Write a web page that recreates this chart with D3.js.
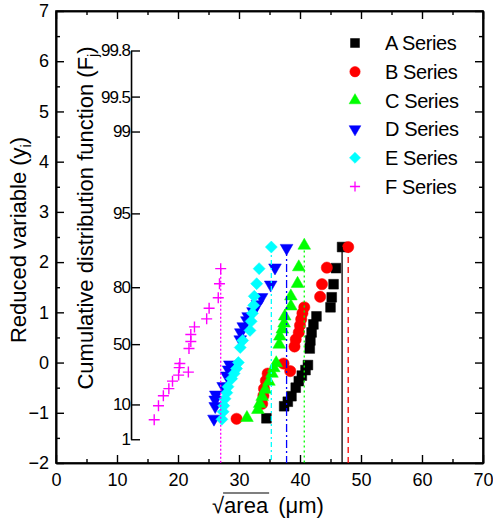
<!DOCTYPE html>
<html>
<head>
<meta charset="utf-8">
<script src="https://cdn.jsdelivr.net/npm/d3@7"></script>
<style>
  body { margin: 0; background: #fff; }
  text { font-family: "Liberation Sans", Arial, sans-serif; fill: #000; }
</style>
</head>
<body>
<div class="chart"></div>
<script>
/* Global Constants
============================================= */
const SVG_WIDTH = 493;
const SVG_HEIGHT = 521;

const X_TICKS = [0, 10, 20, 30, 40, 50, 60, 70];
const Y_TICKS = [-2, -1, 0, 1, 2, 3, 4, 5, 6, 7];
const PROB_TICKS = [1, 10, 50, 80, 95, 99, 99.5, 99.8];
const PROB_AXIS_AT = 12.3;

const SERIES_NAMES = ["A Series", "B Series", "C Series", "D Series", "E Series", "F Series"];

// sqrt(area) values and reduced variable values
const A_X = [46.9, 45.9, 45.5, 45.2, 45.0, 42.7, 42.2, 41.9, 41.7, 41.6, 41.3, 40.9, 40.3, 39.8, 39.3, 38.6, 38.0, 37.4, 34.5];
const A_Y = [2.30, 1.88, 1.56, 1.30, 1.10, 0.92, 0.76, 0.60, 0.44, 0.28, -0.05, -0.15, -0.26, -0.37, -0.50, -0.67, -0.78, -0.87, -1.11];

const B_X = [47.9, 44.4, 43.6, 43.3, 40.7, 40.4, 40.2, 40.0, 39.8, 39.3, 39.1, 37.3, 38.4, 34.7, 34.4, 34.1, 34.0, 33.8, 29.6];
const B_Y = [2.30, 1.89, 1.56, 1.31, 1.10, 0.98, 0.86, 0.74, 0.60, 0.46, 0.32, -0.02, -0.17, -0.22, -0.36, -0.52, -0.66, -0.82, -1.12];

const C_X = [40.7, 39.8, 39.6, 38.5, 38.5, 37.5, 37.4, 37.1, 36.7, 36.6, 36.1, 35.7, 35.4, 34.9, 34.3, 33.8, 33.4, 33.1, 31.3];
const C_Y = [2.33, 1.90, 1.57, 1.32, 1.12, 0.92, 0.78, 0.66, 0.52, 0.36, -0.01, -0.11, -0.22, -0.38, -0.54, -0.68, -0.82, -0.94, -1.10];

const D_X = [37.8, 35.9, 35.2, 33.7, 33.0, 32.3, 31.5, 31.3, 30.7, 30.3, 30.2, 28.5, 28.3, 28.0, 27.4, 26.2, 26.1, 26.1, 25.9];
const D_Y = [2.28, 1.89, 1.55, 1.30, 1.16, 1.02, 0.92, 0.84, 0.72, 0.60, 0.46, -0.04, -0.14, -0.26, -0.47, -0.64, -0.74, -0.87, -1.12];

const E_X = [35.3, 33.3, 32.9, 32.5, 32.4, 32.2, 32.0, 31.8, 30.6, 30.2, 29.9, 29.6, 29.2, 28.8, 28.2, 28.0, 27.7, 27.5, 27.4, 27.2];
const E_Y = [2.30, 1.87, 1.57, 1.32, 1.14, 0.98, 0.82, 0.64, 0.44, 0.30, 0.00, -0.12, -0.22, -0.32, -0.48, -0.60, -0.72, -0.86, -0.98, -1.13];

const F_X = [27.0, 26.8, 26.6, 25.1, 24.7, 22.7, 22.1, 22.1, 21.8, 20.3, 20.2, 21.7, 20.1, 19.1, 18.5, 17.6, 16.8, 16.1];
const F_Y = [1.87, 1.57, 1.29, 1.08, 0.87, 0.71, 0.56, 0.42, 0.28, -0.02, -0.10, -0.19, -0.25, -0.37, -0.52, -0.66, -0.86, -1.14];

const FONT_TICK = "18px";
const FONT_TITLE = "22px";

/* Marker shapes
============================================= */
var symbolPlusThin = {
    draw: function(context, size) {
        var r = Math.sqrt(size) / 2;
        context.moveTo(-r, 0);
        context.lineTo(r, 0);
        context.moveTo(0, -r);
        context.lineTo(0, r);
    }
};

var STYLES = [
    { color: "#000000", type: d3.symbolSquare,   size: 95,  rotate: 0,   dash: null,          fill: true },
    { color: "#ff0000", type: d3.symbolCircle,   size: 100, rotate: 0,   dash: "6,4",         fill: true },
    { color: "#00ff00", type: d3.symbolTriangle, size: 70,  rotate: 0,   dash: "2,3",         fill: true },
    { color: "#0000ff", type: d3.symbolTriangle, size: 70,  rotate: 180, dash: "8,3,2,3",     fill: true },
    { color: "#00ffff", type: d3.symbolSquare,   size: 72,  rotate: 45,  dash: "5,3,2,3",     fill: true },
    { color: "#ff00ff", type: symbolPlusThin,    size: 121, rotate: 0,   dash: "2,2",         fill: false }
];

var SERIES = [
    { xs: A_X, ys: A_Y },
    { xs: B_X, ys: B_Y },
    { xs: C_X, ys: C_Y },
    { xs: D_X, ys: D_Y },
    { xs: E_X, ys: E_Y },
    { xs: F_X, ys: F_Y }
];

//****************** init *****************************//
var margin = { top: 11, bottom: 58, left: 56, right: 10 };
var width = SVG_WIDTH - margin.left - margin.right;
var height = SVG_HEIGHT - margin.top - margin.bottom;

var svg = d3.select(".chart")
    .append("svg")
    .attr("width", SVG_WIDTH)
    .attr("height", SVG_HEIGHT);

var chart = svg.append("g")
    .attr("transform", `translate(${margin.left}, ${margin.top})`);

var xLinearScale = d3.scaleLinear().domain([0, 70]).range([0, width]);
var yLinearScale = d3.scaleLinear().domain([-2, 7]).range([height, 0]);

// minor ticks
var xMinor = d3.range(5, 70, 10);
var yMinor = d3.range(-1.5, 7, 1);

drawAxis(d3.axisBottom(xLinearScale).tickValues(X_TICKS).tickSize(-8).tickSizeOuter(0).tickPadding(10), `translate(0, ${height})`, true);
drawAxis(d3.axisBottom(xLinearScale).tickValues(xMinor).tickSize(-4).tickSizeOuter(0).tickFormat(""), `translate(0, ${height})`, false);
drawAxis(d3.axisTop(xLinearScale).tickValues(X_TICKS).tickSize(-8).tickSizeOuter(0).tickFormat(""), "translate(0, 0)", false);
drawAxis(d3.axisTop(xLinearScale).tickValues(xMinor).tickSize(-4).tickSizeOuter(0).tickFormat(""), "translate(0, 0)", false);
drawAxis(d3.axisLeft(yLinearScale).tickValues(Y_TICKS).tickSize(-8).tickSizeOuter(0).tickPadding(7), "translate(0, 0)", true);
drawAxis(d3.axisLeft(yLinearScale).tickValues(yMinor).tickSize(-4).tickSizeOuter(0).tickFormat(""), "translate(0, 0)", false);
drawAxis(d3.axisRight(yLinearScale).tickValues(Y_TICKS).tickSize(-8).tickSizeOuter(0).tickFormat(""), `translate(${width}, 0)`, false);
drawAxis(d3.axisRight(yLinearScale).tickValues(yMinor).tickSize(-4).tickSizeOuter(0).tickFormat(""), `translate(${width}, 0)`, false);

// frame
chart.append("rect")
    .attr("width", width)
    .attr("height", height)
    .attr("fill", "none")
    .attr("stroke", "#000")
    .attr("stroke-width", 1.6);

// probability axis (Gumbel)
var gLo = gumbel(PROB_TICKS[0]);
var gHi = gumbel(PROB_TICKS[PROB_TICKS.length - 1]);
var probScale = d3.scaleLinear()
    .domain([gLo, gHi])
    .range([yLinearScale(gLo), yLinearScale(gHi)]);

var probAxis = chart.append("g")
    .attr("transform", `translate(${xLinearScale(PROB_AXIS_AT)}, 0)`)
    .call(d3.axisLeft(probScale)
        .tickValues(PROB_TICKS.map(gumbel))
        .tickSize(-9)
        .tickSizeOuter(0)
        .tickPadding(1)
        .tickFormat(function(d, i) { return PROB_TICKS[i]; }));
styleAxis(probAxis, true);
probAxis.selectAll("text").attr("font-size", "17px").attr("letter-spacing", "-1px");

// plot: data points
var plotGroup = chart.append("g");
SERIES.forEach(function(s, k) {
    var st = STYLES[k];
    var sym = d3.symbol().type(st.type).size(st.size);
    plotGroup.append("g")
        .selectAll("path")
        .data(s.xs.map(function(v, i) { return [v, s.ys[i]]; }))
        .enter()
        .append("path")
        .attr("d", sym)
        .attr("transform", function(d) {
            return `translate(${xLinearScale(d[0])}, ${yLinearScale(d[1])}) rotate(${st.rotate})`;
        })
        .attr("fill", st.fill ? st.color : "none")
        .attr("stroke", st.color)
        .attr("stroke-width", st.fill ? 0.5 : 1.4);
});

// vertical lines through the top point of every series
SERIES.forEach(function(s, k) {
    var st = STYLES[k];
    chart.append("line")
        .attr("x1", xLinearScale(s.xs[0]))
        .attr("x2", xLinearScale(s.xs[0]))
        .attr("y1", yLinearScale(s.ys[0]))
        .attr("y2", yLinearScale(-2))
        .attr("stroke", st.color)
        .attr("stroke-width", 1.3)
        .attr("stroke-dasharray", st.dash);
});

// legend
var legend = chart.append("g")
    .attr("transform", `translate(${355 - margin.left}, ${43 - margin.top})`);
SERIES_NAMES.forEach(function(name, k) {
    var st = STYLES[k];
    var row = legend.append("g").attr("transform", `translate(0, ${k * 28.7})`);
    row.append("path")
        .attr("d", d3.symbol().type(st.type).size(st.size * 0.85))
        .attr("transform", `rotate(${st.rotate})`)
        .attr("fill", st.fill ? st.color : "none")
        .attr("stroke", st.color)
        .attr("stroke-width", st.fill ? 0.5 : 1.3);
    row.append("text")
        .attr("x", 30)
        .attr("dy", "0.36em")
        .attr("font-size", "20px")
        .attr("letter-spacing", "-0.4px")
        .text(name);
});

// axis titles
svg.append("text")
    .attr("transform", "translate(26, 240) rotate(-90)")
    .attr("text-anchor", "middle")
    .attr("font-size", FONT_TITLE)
    .html('Reduced variable (y<tspan font-size="14px" dy="5">i</tspan><tspan dy="-5">)</tspan>');

svg.append("text")
    .attr("transform", "translate(93, 218) rotate(-90)")
    .attr("text-anchor", "middle")
    .attr("font-size", FONT_TITLE)
    .html('Cumulative distribution function (F<tspan font-size="14px" dy="5">j</tspan><tspan dy="-5">)</tspan>');

// x title: radical with overline
var xt = svg.append("g").attr("transform", "translate(212, 513)");
var rad = xt.append("text").attr("font-size", FONT_TITLE).text("\u221A");
var radW = rad.node().getComputedTextLength();
var area = xt.append("text").attr("x", radW).attr("font-size", FONT_TITLE).text("area");
var areaW = area.node().getComputedTextLength();
xt.append("line")
    .attr("x1", radW - 1)
    .attr("x2", radW + areaW + 1)
    .attr("y1", -20)
    .attr("y2", -20)
    .attr("stroke", "#000")
    .attr("stroke-width", 1.2);
xt.append("text")
    .attr("x", radW + areaW + 10)
    .attr("font-size", FONT_TITLE)
    .text("(\u03BCm)");

/* Functions
============================================= */

/*
 * reduced variable of a percent value
 */
function gumbel(p) {
    return -Math.log(-Math.log(p / 100));
}

/*
 * draws one axis into the chart
 */
function drawAxis(axis, transform, labels) {
    var g = chart.append("g")
        .attr("transform", transform)
        .call(axis);
    styleAxis(g, labels);
    return g;
}

function styleAxis(g, labels) {
    g.select(".domain").attr("stroke", "#000").attr("stroke-width", 1.6);
    g.selectAll(".tick line").attr("stroke", "#000").attr("stroke-width", 1.4);
    g.selectAll("text")
        .attr("font-family", "Liberation Sans, Arial, sans-serif")
        .attr("font-size", FONT_TICK)
        .attr("fill", "#000");
    if (!labels) g.selectAll("text").remove();
}
</script>
</body>
</html>
